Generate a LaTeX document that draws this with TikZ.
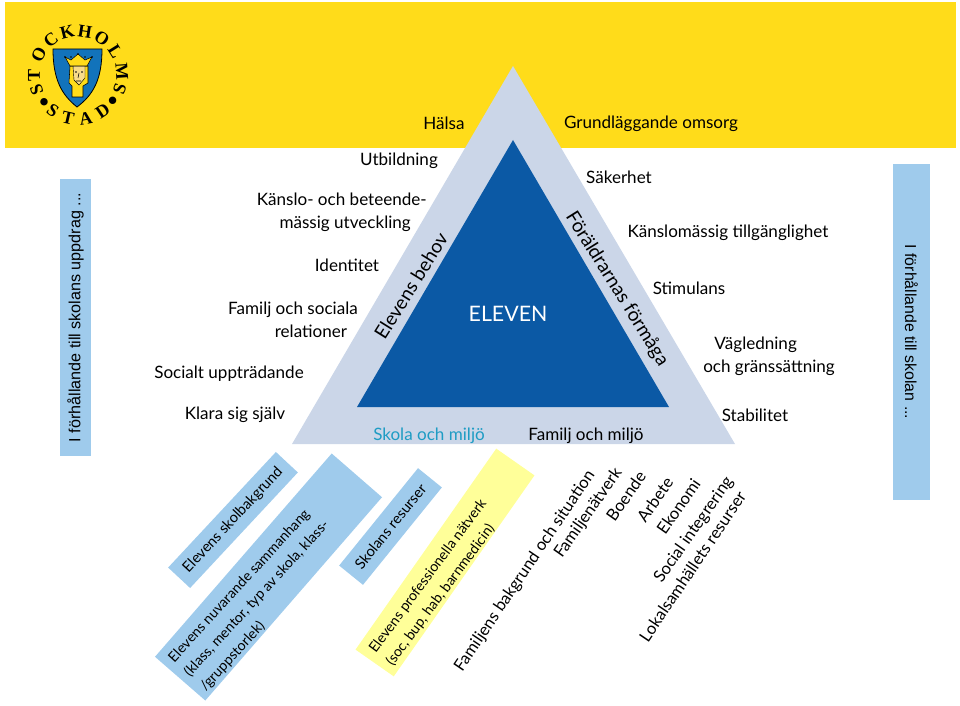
\documentclass[tikz,border=0pt]{standalone}
\usepackage{fontspec}
\setmainfont{Lato}
\newfontfamily\barfont{Liberation Sans}
\newfontfamily\logofont{Liberation Serif}
\usepackage{tikz}
\usetikzlibrary{shapes,positioning}

\definecolor{headyellow}{HTML}{FFDC1A}
\definecolor{triback}{HTML}{CBD6E8}
\definecolor{triblue}{HTML}{0B59A5}
\definecolor{barblue}{HTML}{9FCBEC}
\definecolor{noteyellow}{HTML}{FFFF99}
\definecolor{schoolblue}{HTML}{1E9CC4}
\definecolor{shieldblue}{HTML}{1273BB}
\definecolor{skintone}{HTML}{F8DC8A}

\begin{document}
\begin{tikzpicture}[x=0.75pt, y=-0.75pt,
    label/.style={font=\fontsize{12.8}{17}\selectfont, inner sep=0pt},
    slant/.style={inner sep=0pt, font=\fontsize{12.4}{16}\selectfont, rotate=#1},
    slant/.default=55,
    note/.style={rectangle, inner sep=0pt, font=\fontsize{11}{14}\selectfont},
    notetext/.style={inner sep=0pt, anchor=west, align=left, font=\fontsize{10.6}{16}\selectfont},
    sidebar/.style={rectangle, fill=barblue, inner sep=0pt, font=\barfont\fontsize{11.9}{13}\selectfont},
    letter/.style={font=\logofont\bfseries\fontsize{13.5}{13.5}\selectfont, inner sep=0pt}]

    \useasboundingbox (0,0) rectangle (960,706);

    \fill [headyellow] (5,2) rectangle (956,148);

    % logo
    \draw [fill=shieldblue, line width=0.6pt] (53,49) -- (102,49) .. controls (102,80) and (93,95) .. (77,107)
        .. controls (62,95) and (53,80) .. (53,49) -- cycle;
    \draw [fill=headyellow, line width=0.4pt] (70,66) -- (88,66) -- (88,83) -- (83,86) -- (83,97) -- (72,97) -- (72,86) -- (69,83) -- cycle;
    \draw [fill=skintone, line width=0.3pt] (73,66) -- (85,66) -- (85,78) -- (79,85) -- (74,80) -- cycle;
    \fill (76,72) circle (0.8) (82,72) circle (0.8);
    \draw [line width=0.4pt] (79,73) -- (78,78) (76,81) -- (81,81);
    \draw [fill=headyellow, line width=0.4pt] (65,57) -- (71,60) -- (78,54) -- (85,60) -- (92,57) -- (87,66) -- (70,66) -- cycle;
    \foreach \px/\py in {65/57,71/57,78/54,85/57,92/57}
        \fill [black] (\px,\py) circle (0.9);
    \begin{scope}[shift={(78,75)}, yscale=-1]
        \foreach \ltr/\ang in {S/200,T/180,O/153,C/128,K/104,H/81,O/57,L/32,M/4}
            \node [letter, rotate=\ang-90] (top\ang) at (\ang:44) {\ltr};
        \foreach \ltr/\ang in {S/-19,$\bullet$/-37,D/-56,A/-80,T/-103,S/-125,$\bullet$/-141}
            \node [letter, rotate=\ang+90] (low\ang) at (\ang:44) {\ltr};
    \end{scope}

    % triangle
    \fill [triback] (513,66) -- (735,444) -- (292,444) -- cycle;
    \fill [triblue] (513,140) -- (669,407) -- (357,407) -- cycle;

    \node [label, text=white, font=\fontsize{16}{18}\selectfont] (eleven) at (508,314) {ELEVEN};
    \node [label, rotate=58, font=\fontsize{14.3}{17}\selectfont] (behov) at (411,286) {Elevens behov};
    \node [label, rotate=-58, font=\fontsize{14.3}{17}\selectfont] (formaga) at (617,289) {Föräldrarnas förmåga};
    \node [label, text=schoolblue] (skola) at (429,436) {Skola och miljö};
    \node [label] (familj) at (586,436) {Familj och miljö};

    % left side
    \node [label] (halsa) at (444,123) {Hälsa};
    \node [label] (utbildning) at (399,161) {Utbildning};
    \node [label, align=right, anchor=east] (kanslo) at (427,212) {Känslo- och beteende-\\mässig utveckling\hspace*{12pt}};
    \node [label] (identitet) at (347,265) {Identitet};
    \node [label, align=right, anchor=east] (socialarel) at (358,320) {Familj och sociala\\relationer\hspace*{8pt}};
    \node [label] (socialt) at (229,374) {Socialt uppträdande};
    \node [label] (klara) at (235,415) {Klara sig själv};

    % right side
    \node [label] (omsorg) at (651,124) {Grundläggande omsorg};
    \node [label] (sakerhet) at (619,177) {Säkerhet};
    \node [label] (kanslom) at (728,233) {Känslomässig tillgänglighet};
    \node [label] (stimulans) at (689,288) {Stimulans};
    \node [label, align=center] (vagledning) at (769,356) {\hspace*{-20pt}Vägledning\\och gränssättning};
    \node [label] (stabilitet) at (755,415) {Stabilitet};

    % side bars
    \node [sidebar, font=\barfont\fontsize{12.1}{13}\selectfont, minimum width=208pt, minimum height=23pt, rotate=90] (uppdrag) at (75.5,317.5) {I förhållande till skolans uppdrag ...};
    \node [sidebar, minimum width=252pt, minimum height=28pt, rotate=-90] (skolan) at (911.5,332) {I förhållande till skolan ...};

    % slanted boxes
    \node [note, fill=barblue, minimum width=118.5pt, minimum height=22.5pt, rotate=47] (skolbakgrund) at (233,520) {Elevens skolbakgrund};
    \node [note, fill=barblue, minimum width=202pt, minimum height=50pt, rotate=49] (sammanhang) at (268.5,577) {};
    \node [notetext, rotate=47.5] (sammanhangtext) at (187,675)
        {Elevens nuvarande sammanhang\\(klass, mentor, typ av skola, klass-\\/gruppstorlek)};
    \node [note, fill=barblue, minimum width=94pt, minimum height=23pt, rotate=51] (resurser) at (390.5,526.5) {Skolans resurser};
    \node [note, fill=noteyellow, minimum width=184pt, minimum height=35pt, rotate=55] (natverk) at (445,562.5) {};
    \node [notetext, rotate=53.5] (natverktext) at (381,658)
        {Elevens professionella nätverk\\(soc, bup, hab, barnmedicin)};

    % slanted labels
    \node [slant=56] (bakgrund) at (525,571) {Familjens bakgrund och situation};
    \node [slant] (familjenat) at (588.5,513) {Familjenätverk};
    \node [slant] (boende) at (626,496) {Boende};
    \node [slant] (arbete) at (655,499.5) {Arbete};
    \node [slant] (ekonomi) at (678.5,506.5) {Ekonomi};
    \node [slant] (integrering) at (694,530) {Social integrering};
    \node [slant=56] (lokal) at (692.5,566.5) {Lokalsamhällets resurser};

\end{tikzpicture}
\end{document}
